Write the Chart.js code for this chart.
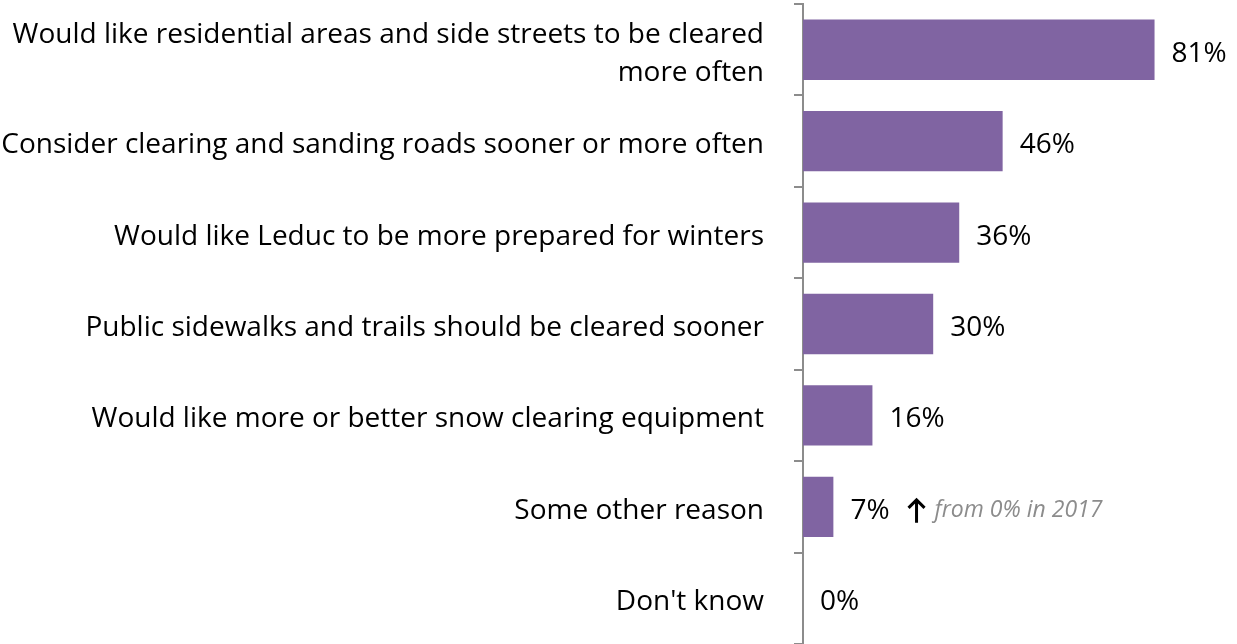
<!DOCTYPE html>
<html>
<head>
<meta charset="utf-8">
<script src="https://cdn.jsdelivr.net/npm/chart.js@4.4.1/dist/chart.umd.min.js"></script>
<style>
    html, body { margin: 0; padding: 0; background: #ffffff; overflow: hidden; }
    #wrap { width: 1237px; height: 644px; position: relative; }
</style>
</head>
<body>
<div id="wrap"><canvas id="reasonChart"></canvas></div>
<script>
/* =========================================
   1. DATA
   ========================================= */
const categories = [
    ['Would like residential areas and side streets to be cleared', 'more often'],
    'Consider clearing and sanding roads sooner or more often',
    'Would like Leduc to be more prepared for winters',
    'Public sidewalks and trails should be cleared sooner',
    'Would like more or better snow clearing equipment',
    'Some other reason',
    "Don't know"
];
const percentValues = [81, 46, 36, 30, 16, 7, 0];
const changeNotes = ['', '', '', '', '', 'from 0% in 2017', ''];

const FONT = '"Open Sans", sans-serif';
const AXIS_GREY = '#8c8c8c';

/* =========================================
   2. VALUE LABELS PLUGIN
   ========================================= */
const valueLabels = {
    id: 'valueLabels',
    afterDatasetsDraw(chart) {
        const ctx = chart.ctx;
        const meta = chart.getDatasetMeta(0);
        ctx.save();
        ctx.textBaseline = 'middle';
        ctx.textAlign = 'left';
        meta.data.forEach((bar, i) => {
            const txt = percentValues[i] + '%';
            const x = bar.x + 17;
            const y = bar.y + 4;
            ctx.font = '28px ' + FONT;
            ctx.fillStyle = '#000000';
            ctx.fillText(txt, x, y);
            if (changeNotes[i]) {
                const w = ctx.measureText(txt).width;
                // arrow drawn as a small path so it looks bold
                const ax = x + w + 27, top = y - 12, bot = y + 12;
                ctx.strokeStyle = '#000000';
                ctx.lineWidth = 3;
                ctx.beginPath();
                ctx.moveTo(ax, bot);
                ctx.lineTo(ax, top + 1);
                ctx.moveTo(ax - 8, top + 9);
                ctx.lineTo(ax, top + 1);
                ctx.lineTo(ax + 8, top + 9);
                ctx.stroke();
                ctx.font = 'italic 23px ' + FONT;
                ctx.fillStyle = '#8c8c8c';
                ctx.fillText(changeNotes[i], ax + 18, y);
            }
        });
        ctx.restore();
    }
};

/* =========================================
   3. CHART
   ========================================= */
new Chart(document.getElementById('reasonChart').getContext('2d'), {
    type: 'bar',
    data: {
        labels: categories,
        datasets: [{
            data: percentValues,
            backgroundColor: '#8064a2',
            borderWidth: 0,
            barPercentage: 0.66,
            categoryPercentage: 1
        }]
    },
    options: {
        indexAxis: 'y',
        responsive: true,
        maintainAspectRatio: false,
        animation: false,
        layout: { padding: { top: 4, right: 0, bottom: 0, left: 0 } },
        plugins: { legend: { display: false }, tooltip: { enabled: false } },
        scales: {
            x: { display: false, min: 0, max: 100 },
            y: {
                afterFit(scale) {
                    // keep the axis column fixed and stop label padding from shrinking the plot
                    scale.width = 803;
                    scale.paddingTop = 0;
                    scale.paddingBottom = 0;
                },
                grid: {
                    drawOnChartArea: false,
                    offset: true,
                    tickLength: 9,
                    color: AXIS_GREY,
                    lineWidth: 2
                },
                border: { color: AXIS_GREY, width: 2 },
                ticks: {
                    color: '#000000',
                    padding: 30,
                    labelOffset: 4,
                    font: { family: FONT, size: 28, lineHeight: 1.36 }
                }
            }
        }
    },
    plugins: [valueLabels]
});
</script>
</body>
</html>
